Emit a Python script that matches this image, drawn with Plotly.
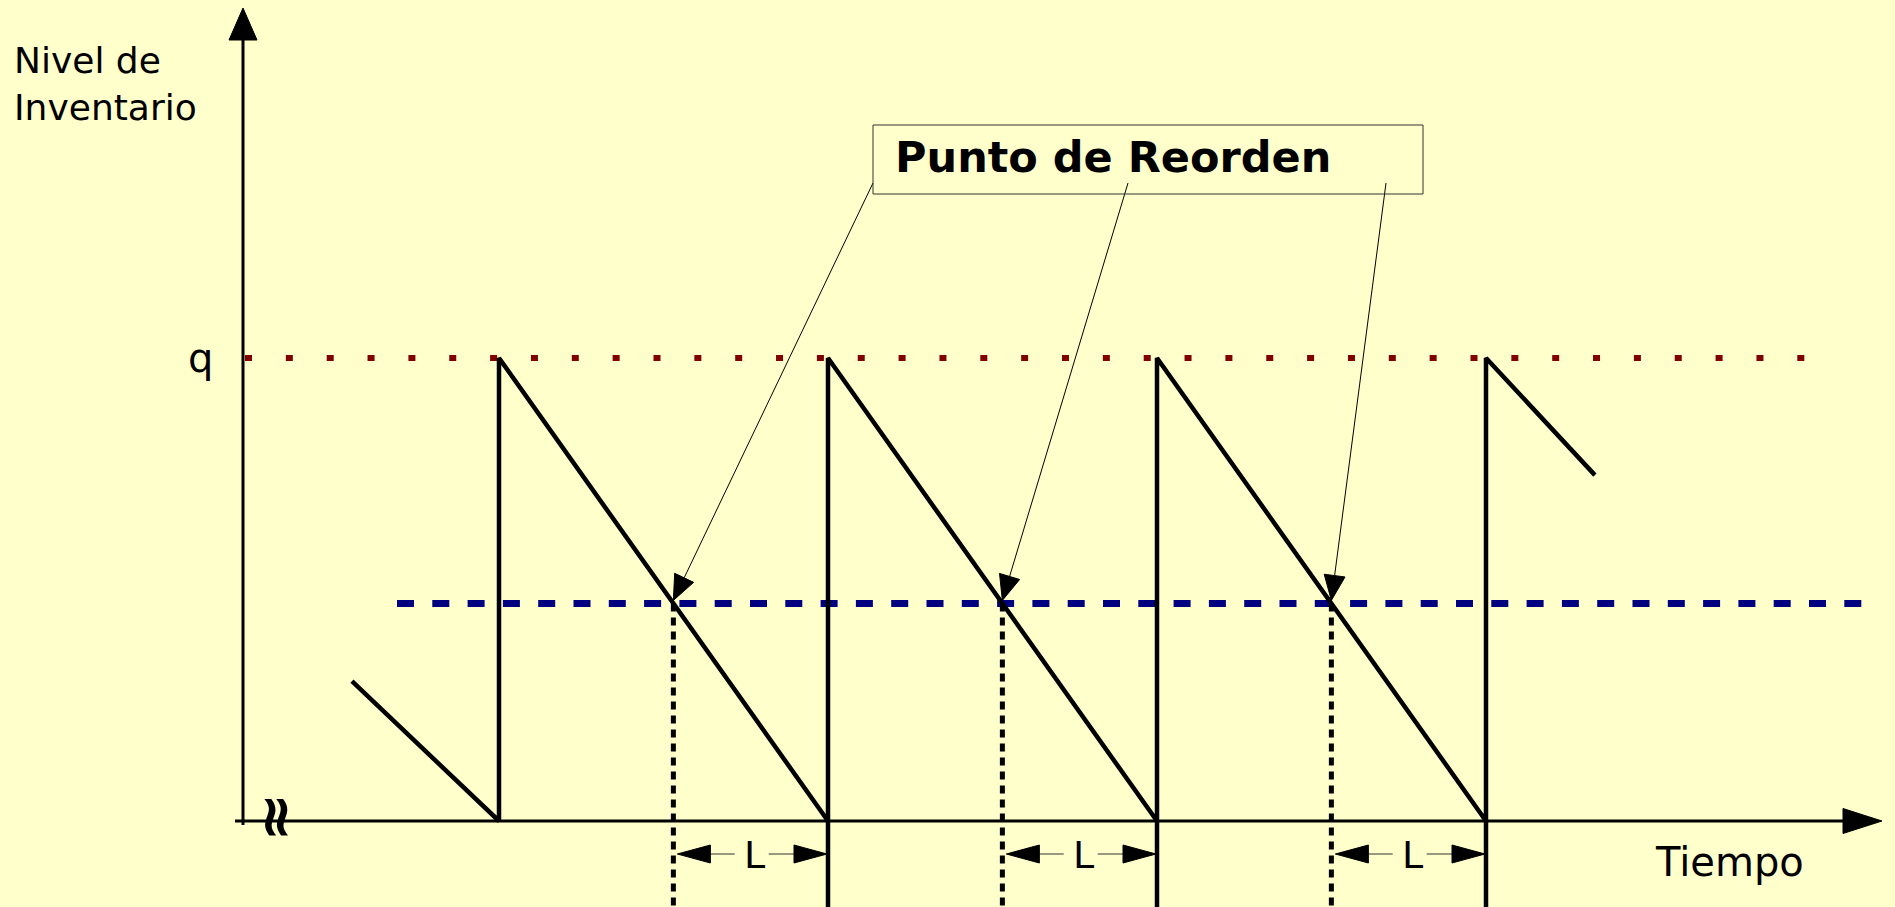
import math
import plotly.graph_objects as go

# ---------------- data (schematic inventory model) ----------------
arrival_times = [1, 2, 3, 4]          # order arrival instants (cycles)
order_qty = 100                       # q : inventory level after each arrival
reorder_point = 47                    # R : reorder level
lead_time = 0.47                      # L : lead time (cycles)
opening_t = [0.553, 1.0]              # partial cycle before first arrival
opening_inv = [30.2, 0.0]
closing_t = [4.0, 4.331]              # partial cycle after last arrival
closing_inv = [100.0, 74.7]

y_label_lines = ["Nivel de", "Inventario"]
x_label = "Tiempo"
q_label = "q"
lead_label = "L"
callout_text = "Punto de Reorden"

# ---------------- layout constants ----------------
W, H = 1895, 907
PX_PER_T = 329.0
PX_PER_INV = 4.63
X_RANGE = [1 - 499 / PX_PER_T, 1 + (W - 499) / PX_PER_T]
Y_RANGE = [-(H - 821) / PX_PER_INV, 821 / PX_PER_INV]

BG = "#FFFFCC"
FONT = "DejaVu Sans"


def px(t):
    return (t - X_RANGE[0]) * PX_PER_T


def py(v):
    return (Y_RANGE[1] - v) * PX_PER_INV


def dt(xp):
    return X_RANGE[0] + xp / PX_PER_T


def dv(yp):
    return Y_RANGE[1] - yp / PX_PER_INV


def head(tip, frm, length, width):
    """Filled triangle arrowhead (data coords) pointing at tip, coming from frm."""
    tx, ty = px(tip[0]), py(tip[1])
    fx, fy = px(frm[0]), py(frm[1])
    d = math.hypot(tx - fx, ty - fy)
    ux, uy = (tx - fx) / d, (ty - fy) / d
    bx, by = tx - ux * length, ty - uy * length
    nx, ny = -uy, ux
    pts = [(tx, ty), (bx + nx * width / 2, by + ny * width / 2),
           (bx - nx * width / 2, by - ny * width / 2), (tx, ty)]
    base = (dt(bx), dv(by))
    return [dt(p[0]) for p in pts], [dv(p[1]) for p in pts], base


fig = go.Figure()

# axis geometry
axis_t0 = dt(243)          # vertical axis position
axis_top = dv(8)           # arrow tip of vertical axis
axis_end = dt(1882)        # arrow tip of horizontal axis
y_bottom = Y_RANGE[0]

head_x, head_y = [], []

# q level (dotted dark red)
fig.add_trace(go.Scatter(x=[dt(245), dt(1806)], y=[order_qty, order_qty], mode="lines",
                         line=dict(color="#800000", width=6, dash="7px,33.85px"),
                         hoverinfo="skip"))
# reorder level (dashed navy)
fig.add_trace(go.Scatter(x=[dt(397), dt(1862)], y=[reorder_point, reorder_point], mode="lines",
                         line=dict(color="#000080", width=7, dash="17px,18.3px"),
                         hoverinfo="skip"))
# reorder instants (dotted verticals)
vx, vy = [], []
for a in arrival_times[1:]:
    vx += [a - lead_time, a - lead_time, None]
    vy += [reorder_point, y_bottom, None]
fig.add_trace(go.Scatter(x=vx, y=vy, mode="lines",
                         line=dict(color="black", width=5, dash="8px,6px"), hoverinfo="skip"))

# sawtooth
sx, sy = list(opening_t), list(opening_inv)
for i, a in enumerate(arrival_times):
    sx.append(a)
    sy.append(order_qty)
    if i < len(arrival_times) - 1:
        sx.append(arrival_times[i + 1])
        sy.append(0)
sx.append(closing_t[1])
sy.append(closing_inv[1])
fig.add_trace(go.Scatter(x=sx, y=sy, mode="lines", line=dict(color="black", width=4.5),
                         hoverinfo="skip"))
# arrival verticals extend below the time axis
ex, ey = [], []
for a in arrival_times[1:]:
    ex += [a, a, None]
    ey += [0, y_bottom, None]
fig.add_trace(go.Scatter(x=ex, y=ey, mode="lines", line=dict(color="black", width=4.5),
                         hoverinfo="skip"))

# axes
hx, hy, hb = head((axis_t0, axis_top), (axis_t0, 0), 32, 28)
head_x += hx + [None]
head_y += hy + [None]
fig.add_trace(go.Scatter(x=[axis_t0, axis_t0], y=[dv(825), hb[1]], mode="lines",
                         line=dict(color="black", width=3), hoverinfo="skip"))
hx, hy, hb = head((axis_end, 0), (axis_t0, 0), 39, 25)
head_x += hx + [None]
head_y += hy + [None]
fig.add_trace(go.Scatter(x=[dt(235), hb[0]], y=[0, 0], mode="lines",
                         line=dict(color="black", width=3), hoverinfo="skip"))

# lead-time arrows
y_L = dv(854)
lx, ly = [], []
for a in arrival_times[1:]:
    r = a - lead_time
    left_tip = dt(px(r) + 4)
    right_tip = dt(px(a) - 1)
    mid = dt((px(r) + px(a)) / 2)
    hx, hy, hbl = head((left_tip, y_L), (mid, y_L), 33, 18)
    head_x += hx + [None]
    head_y += hy + [None]
    hx, hy, hbr = head((right_tip, y_L), (mid, y_L), 33, 18)
    head_x += hx + [None]
    head_y += hy + [None]
    lx += [hbl[0], dt(px(mid) - 16), None, dt(px(mid) + 18), hbr[0], None]
    ly += [y_L, y_L, None, y_L, y_L, None]
    fig.add_annotation(x=dt(px(mid) + 4), y=dv(855), text=lead_label, showarrow=False,
                       xanchor="center", yanchor="middle",
                       font=dict(family=FONT, size=38, color="black"))
fig.add_trace(go.Scatter(x=lx, y=ly, mode="lines", line=dict(color="#333333", width=1),
                         hoverinfo="skip"))

# callout arrows
starts_px = [(873, 183), (1128, 183), (1386, 183)]
cx, cy = [], []
for (sxp, syp), a in zip(starts_px, arrival_times[1:]):
    tip = (a - lead_time, dv(py(reorder_point) - 3))
    start = (dt(sxp), dv(syp))
    hx, hy, hb = head(tip, start, 25, 21)
    head_x += hx + [None]
    head_y += hy + [None]
    cx += [start[0], hb[0], None]
    cy += [start[1], hb[1], None]
fig.add_trace(go.Scatter(x=cx, y=cy, mode="lines", line=dict(color="black", width=1),
                         hoverinfo="skip"))

fig.add_trace(go.Scatter(x=head_x, y=head_y, mode="lines", fill="toself",
                         fillcolor="black", line=dict(color="black", width=1),
                         hoverinfo="skip"))

# callout box
fig.add_shape(type="rect", x0=dt(873), x1=dt(1423), y0=dv(194), y1=dv(125),
              line=dict(color="#333333", width=1), fillcolor="rgba(0,0,0,0)")
fig.add_annotation(x=dt(893), y=dv(157), text="<b>" + callout_text + "</b>", showarrow=False,
                   xanchor="left", yanchor="middle",
                   font=dict(family=FONT, size=43, color="black"))

# axis labels
fig.add_annotation(x=dt(12), y=dv(84), text="<br>".join(y_label_lines), showarrow=False,
                   xanchor="left", yanchor="middle", align="left",
                   font=dict(family=FONT, size=36, color="black"))
fig.add_annotation(x=dt(1653), y=dv(862), text=x_label, showarrow=False,
                   xanchor="left", yanchor="middle", font=dict(family=FONT, size=40, color="black"))
fig.add_annotation(x=dt(200), y=order_qty, text=q_label, showarrow=False,
                   xanchor="center", yanchor="middle", font=dict(family=FONT, size=40, color="black"))
# axis break mark
fig.add_annotation(x=dt(278), y=dv(817), text="<b>≈</b>", showarrow=False, textangle=90,
                   xanchor="center", yanchor="middle", font=dict(family=FONT, size=58, color="black"))

fig.update_layout(
    width=W, height=H, margin=dict(l=0, r=0, t=0, b=0),
    paper_bgcolor=BG, plot_bgcolor=BG, showlegend=False,
    xaxis=dict(range=X_RANGE, visible=False, fixedrange=True),
    yaxis=dict(range=Y_RANGE, visible=False, fixedrange=True),
)

fig.write_html("out.html", config={"displayModeBar": False},
               post_script="document.body.style.margin='0';")
